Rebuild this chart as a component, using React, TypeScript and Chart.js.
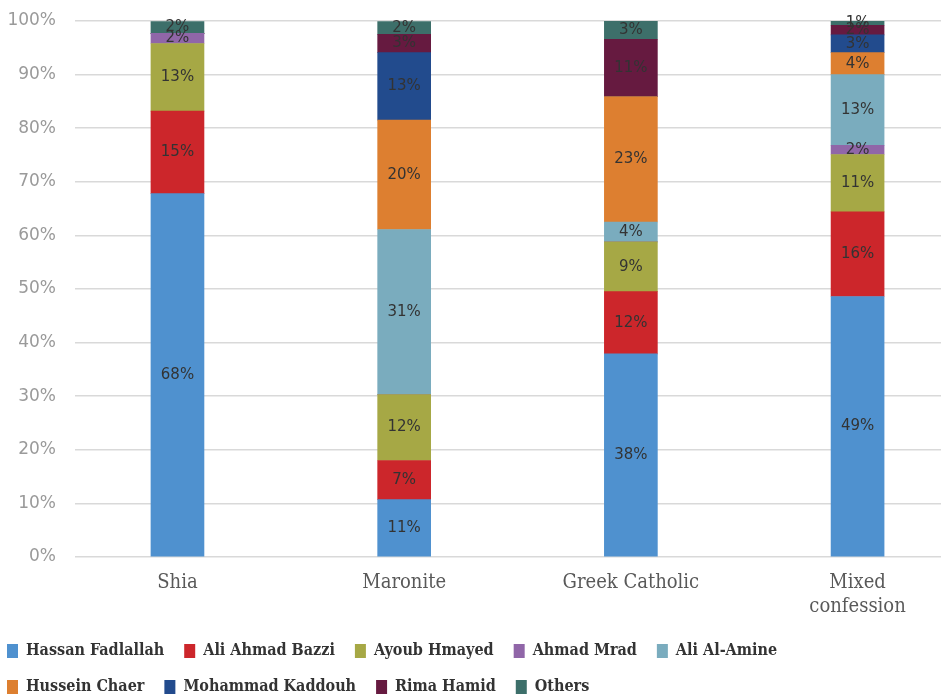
import React, { useEffect, useRef } from "react";
import { Chart, registerables } from "chart.js";

Chart.register(...registerables);

const categories = ["Shia", "Maronite", "Greek Catholic", "Mixed confession"];

const hassanFadlallah = [67.8, 10.7, 37.9, 48.6];
const aliAhmadBazzi = [15.4, 7.3, 11.6, 15.8];
const ayoubHmayed = [12.6, 12.3, 9.3, 10.7];
const ahmadMrad = [1.9, 0, 0, 1.7];
const aliAlAmine = [0, 30.8, 3.7, 13.2];
const husseinChaer = [0, 20.4, 23.4, 4.1];
const mohammadKaddouh = [0, 12.6, 0, 3.3];
const rimaHamid = [0, 3.4, 10.7, 1.8];
const others = [2.2, 2.4, 3.4, 0.8];

const yTicks = [0, 10, 20, 30, 40, 50, 60, 70, 80, 90, 100];

const series = [
  { label: "Hassan Fadlallah", data: hassanFadlallah, color: "#4f91cf" },
  { label: "Ali Ahmad Bazzi", data: aliAhmadBazzi, color: "#cc262b" },
  { label: "Ayoub Hmayed", data: ayoubHmayed, color: "#a6a845" },
  { label: "Ahmad Mrad", data: ahmadMrad, color: "#9066a8" },
  { label: "Ali Al-Amine", data: aliAlAmine, color: "#7aacbe" },
  { label: "Hussein Chaer", data: husseinChaer, color: "#dd7f30" },
  { label: "Mohammad Kaddouh", data: mohammadKaddouh, color: "#224b8d" },
  { label: "Rima Hamid", data: rimaHamid, color: "#661a40" },
  { label: "Others", data: others, color: "#3d6f6a" },
];

// draws the rounded percentage in the middle of each segment
const segmentLabels = {
  id: "segmentLabels",
  afterDatasetsDraw(chart: any) {
    const ctx = chart.ctx;
    ctx.save();
    ctx.font = "15px 'DejaVu Sans', sans-serif";
    ctx.fillStyle = "#333333";
    ctx.textAlign = "center";
    ctx.textBaseline = "middle";
    chart.data.datasets.forEach((ds: any, di: number) => {
      const meta = chart.getDatasetMeta(di);
      meta.data.forEach((bar: any, i: number) => {
        const v = ds.data[i].y;
        if (!v) return;
        ctx.fillText(Math.round(v) + "%", bar.x, (bar.y + bar.base) / 2);
      });
    });
    ctx.restore();
  },
};

const App: React.FC = () => {
  const canvasRef = useRef<HTMLCanvasElement>(null);

  useEffect(() => {
    if (!canvasRef.current) return;
    const chart = new Chart(canvasRef.current, {
      type: "bar",
      data: {
        datasets: series.map((s) => ({
          label: s.label,
          data: s.data.map((v, i) => ({ x: i, y: v })),
          backgroundColor: s.color,
          borderWidth: 0,
          barThickness: 53,
        })),
      },
      options: {
        responsive: true,
        maintainAspectRatio: false,
        animation: false,
        layout: { padding: { top: 21, right: 0, left: 0, bottom: 0 } },
        scales: {
          x: {
            type: "linear",
            stacked: true,
            offset: false,
            min: -0.452,
            max: 3.368,
            grid: { display: false },
            border: { display: false },
            afterBuildTicks: (scale: any) => {
              scale.ticks = categories.map((_, i) => ({ value: i }));
            },
            afterFit: (scale: any) => {
              scale.height = 66;
            },
            ticks: {
              autoSkip: false,
              maxRotation: 0,
              padding: 6,
              color: "#595959",
              font: { family: "'DejaVu Serif Condensed', 'DejaVu Serif', serif", size: 20, lineHeight: 1.2 },
              callback: (v: any) => {
                const name = categories[v];
                return name === "Mixed confession" ? ["Mixed", "confession"] : name;
              },
            },
          },
          y: {
            stacked: true,
            min: 0,
            max: 100,
            afterBuildTicks: (scale: any) => {
              scale.ticks = yTicks.map((v) => ({ value: v }));
            },
            afterFit: (scale: any) => {
              scale.width = 88;
              scale.paddingTop = 0;
              scale.paddingBottom = 0;
            },
            grid: { color: "#d9d9d9", lineWidth: 1.5, drawTicks: false },
            border: { display: false },
            ticks: {
              padding: 19,
              color: "#9a9a9a",
              font: { family: "'DejaVu Sans', sans-serif", size: 17 },
              callback: (v: any) => v + "%",
            },
          },
        },
        plugins: {
          tooltip: { enabled: false },
          legend: {
            position: "bottom",
            align: "start",
            labels: {
              boxWidth: 11,
              boxHeight: 14,
              padding: 20,
              color: "#333333",
              font: { family: "'DejaVu Serif Condensed', 'Liberation Serif', serif", size: 16, weight: "bold" },
            },
          },
        },
      },
      plugins: [segmentLabels],
    } as any);

    return () => {
      chart.destroy();
    };
  }, []);

  return (
    <div style={{ position: "fixed", left: 0, top: 0, width: 941, height: 697, overflow: "hidden", background: "#ffffff" }}>
      <div style={{ position: "absolute", left: -13, top: 0, width: 954, height: 705 }}>
        <canvas ref={canvasRef} />
      </div>
    </div>
  );
};

export default App;
